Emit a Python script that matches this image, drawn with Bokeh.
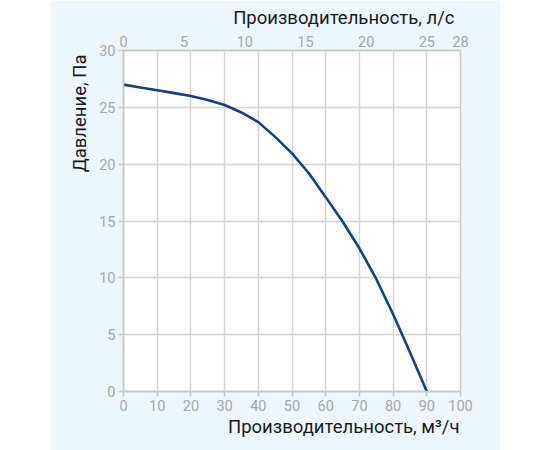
from bokeh.plotting import figure
from bokeh.models import LinearAxis, Range1d, FixedTicker, Spacer, Title
from bokeh.layouts import row
from bokeh.embed import file_html
from bokeh.resources import INLINE

# data: flow (m3/h) vs pressure (Pa)
flow_m3h = [0, 5, 10, 15, 20, 25, 30, 35, 40, 45, 50, 55, 60, 65, 70, 75, 80, 85, 90]
pressure_pa = [27.0, 26.75, 26.5, 26.25, 26.0, 25.65, 25.2, 24.55, 23.7, 22.4, 20.95,
               19.2, 17.1, 14.95, 12.6, 9.9, 6.8, 3.45, 0.0]

x_ticks = [0, 10, 20, 30, 40, 50, 60, 70, 80, 90, 100]
y_ticks = [0, 5, 10, 15, 20, 25, 30]
ls_end = 100 / 3.6
ls_ticks = [0, 5, 10, 15, 20, 25, ls_end]
ls_labels = {ls_end: "28"}

x_label = "Производительность, м³/ч"
top_label = "Производительность, л/с"
y_label = "Давление, Па"

FONT = "Roboto"
TICK_COLOR = "#a6a6a6"
GRID_COLOR = "#d4d4d4"
LABEL_COLOR = "#1a1a1a"
BG = "#eef7fd"
LINE_COLOR = "#123f8c"

p = figure(width=450, height=450, output_backend="svg", toolbar_location=None,
           x_range=Range1d(0, 100), y_range=Range1d(0, 30),
           min_border_left=73, min_border_right=40, min_border_top=48, min_border_bottom=59)
p.border_fill_color = BG
p.background_fill_color = "white"
p.outline_line_color = "#c8c8c8"
p.outline_line_width = 1.5

p.extra_x_ranges = {"ls": Range1d(0, ls_end)}

p.line(flow_m3h, pressure_pa, line_color=LINE_COLOR, line_width=2.6)

def style_axis(ax):
    ax.major_label_text_font = FONT
    ax.major_label_text_font_size = "14.5px"
    ax.major_label_text_color = TICK_COLOR
    ax.axis_line_color = "#c8c8c8"
    ax.axis_line_width = 1.5
    ax.major_tick_line_color = "#c8c8c8"
    ax.major_tick_line_width = 1.5
    ax.minor_tick_line_color = None

xa = p.xaxis[0]
xa.ticker = FixedTicker(ticks=x_ticks)
xa.major_tick_in = 0
xa.major_tick_out = 5
xa.major_label_standoff = 3
style_axis(xa)

ya = p.yaxis[0]
ya.ticker = FixedTicker(ticks=y_ticks)
ya.major_tick_in = 0
ya.major_tick_out = 5
ya.major_label_standoff = 3
style_axis(ya)

ta = LinearAxis(x_range_name="ls", ticker=FixedTicker(ticks=ls_ticks),
                major_label_overrides=ls_labels)
ta.major_tick_in = 0
ta.major_tick_out = 0
ta.major_label_standoff = 4
style_axis(ta)
p.add_layout(ta, "above")

def axis_title(text, standoff, offset):
    return Title(text=text, align="right", standoff=standoff, offset=offset,
                 text_font=FONT, text_font_size="18.5px", text_font_style="normal",
                 text_color=LABEL_COLOR)

p.add_layout(axis_title(top_label, 8, 6), "above")
p.add_layout(axis_title(x_label, 0, 1), "below")
p.add_layout(axis_title(y_label, 12, 4), "left")

p.xgrid.ticker = FixedTicker(ticks=x_ticks)
p.ygrid.ticker = FixedTicker(ticks=y_ticks)
p.xgrid.grid_line_color = GRID_COLOR
p.ygrid.grid_line_color = GRID_COLOR
p.xgrid.grid_line_width = 1.5
p.ygrid.grid_line_width = 1.5

layout = row(Spacer(width=50, height=450), p)
open("out.html", "w").write(file_html(layout, INLINE))
